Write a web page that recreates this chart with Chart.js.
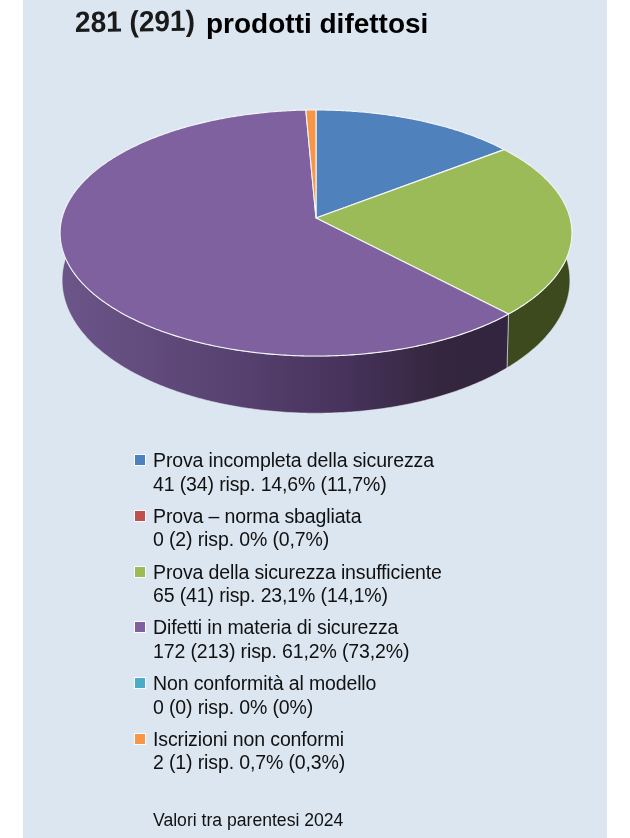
<!DOCTYPE html>
<html lang="it">
<head>
<meta charset="utf-8">
<title>281 (291) prodotti difettosi</title>
<script src="https://cdn.jsdelivr.net/npm/chart.js@4"></script>
<style>
  html, body { margin: 0; padding: 0; background: #fff; }
  #page { position: relative; width: 630px; height: 838px; overflow: hidden; font-family: "Liberation Sans", Arial, sans-serif; color: #111; }
  #panel { position: absolute; left: 23px; top: 0; width: 584px; height: 838px; background: #dce6f1; }
  #chartBox { position: absolute; left: 0; top: 0; width: 630px; height: 838px; }
  .title { position: absolute; font-weight: bold; white-space: nowrap; }
  #titleCount { left: 75px; top: 6px; font-size: 28px; color: #1a1a1a; transform: rotate(-0.6deg) scaleY(1.05); }
  #titleText { left: 206px; top: 8px; font-size: 28px; color: #000; }
  #legend { position: absolute; left: 135px; top: 449px; }
  .item { position: relative; height: 55.8px; padding-left: 18px; font-size: 19.5px; line-height: 23.5px; letter-spacing: -0.13px; white-space: nowrap; }
  .swatch { position: absolute; left: 0; top: 6px; width: 10px; height: 10px; outline: 1.5px solid rgba(255,255,255,0.85); }
  #note { position: absolute; left: 153px; top: 810px; font-size: 17.6px; white-space: nowrap; }
</style>
</head>
<body>
<div id="page">
  <div id="panel"></div>
  <div id="chartBox"><canvas id="myChart" width="630" height="838"></canvas></div>
  <div class="title" id="titleCount">281 (291)</div>
  <div class="title" id="titleText">prodotti difettosi</div>
  <div id="legend"></div>
  <div id="note">Valori tra parentesi 2024</div>
</div>
<script>
const categories = [
  "Prova incompleta della sicurezza",
  "Prova – norma sbagliata",
  "Prova della sicurezza insufficiente",
  "Difetti in materia di sicurezza",
  "Non conformità al modello",
  "Iscrizioni non conformi",
];
const values = [41, 0, 65, 172, 0, 2];
const details = [
  "41 (34) risp. 14,6% (11,7%)",
  "0 (2) risp. 0% (0,7%)",
  "65 (41) risp. 23,1% (14,1%)",
  "172 (213) risp. 61,2% (73,2%)",
  "0 (0) risp. 0% (0%)",
  "2 (1) risp. 0,7% (0,3%)",
];
const colors = ["#4f81bd", "#c0504d", "#9bbb59", "#7f61a0", "#4bacc6", "#f79646"];

// legenda html, due righe per voce
const legendEl = document.getElementById("legend");
categories.forEach((name, i) => {
  const item = document.createElement("div");
  item.className = "item";
  const swatch = document.createElement("span");
  swatch.className = "swatch";
  swatch.style.background = colors[i];
  item.appendChild(swatch);
  item.appendChild(document.createTextNode(name));
  item.appendChild(document.createElement("br"));
  item.appendChild(document.createTextNode(details[i]));
  legendEl.appendChild(item);
});

// prospettiva del disco: faccia superiore e fondo
const tilt = 0.122;
const topFace = { cx: 316, cy: 218, rx: 254, ry: 121.2 };
const bottomFace = { cx: 316, cy: 264, rx: 252, ry: 131 };

function project(face, angle) {
  const u = Math.cos(angle);
  const v = Math.sin(angle);
  const w = 1 - tilt * v;
  return [face.cx + (face.rx * u) / w, face.cy + (face.ry * v) / w];
}

function arcPoints(face, start, end) {
  const steps = Math.max(2, Math.ceil(Math.abs(end - start) / 0.01));
  const pts = [];
  for (let i = 0; i <= steps; i++) {
    pts.push(project(face, start + ((end - start) * i) / steps));
  }
  return pts;
}

function wallFill(ctx, index) {
  if (index === 2) return "#3d4a1e";
  if (index === 3) {
    const g = ctx.createLinearGradient(60, 0, 505, 0);
    g.addColorStop(0, "#6c5589");
    g.addColorStop(0.4, "#574170");
    g.addColorStop(0.65, "#46325a");
    g.addColorStop(0.85, "#35263f");
    g.addColorStop(1, "#33243f");
    return g;
  }
  return "#2f4a6c";
}

const pie3d = {
  id: "pie3d",
  // disegno i settori a mano, con gli angoli calcolati da Chart.js
  beforeDatasetDraw(chart) {
    const ctx = chart.ctx;
    const arcs = chart.getDatasetMeta(0).data;
    ctx.save();
    ctx.lineJoin = "round";

    // pareti laterali
    arcs.forEach((arc, i) => {
      if (arc.endAngle - arc.startAngle <= 0) return;
      const topPts = arcPoints(topFace, arc.startAngle, arc.endAngle);
      const botPts = arcPoints(bottomFace, arc.endAngle, arc.startAngle);
      ctx.beginPath();
      topPts.concat(botPts).forEach((p, n) => (n ? ctx.lineTo(p[0], p[1]) : ctx.moveTo(p[0], p[1])));
      ctx.closePath();
      ctx.fillStyle = wallFill(ctx, i);
      ctx.fill();
      ctx.strokeStyle = "rgba(230,235,240,0.55)";
      ctx.lineWidth = 1;
      ctx.stroke();
    });

    // faccia superiore
    arcs.forEach((arc, i) => {
      if (arc.endAngle - arc.startAngle <= 0) return;
      const pts = arcPoints(topFace, arc.startAngle, arc.endAngle);
      ctx.beginPath();
      ctx.moveTo(topFace.cx, topFace.cy);
      pts.forEach((p) => ctx.lineTo(p[0], p[1]));
      ctx.closePath();
      ctx.fillStyle = colors[i];
      ctx.fill();
      ctx.strokeStyle = "#f4f6f8";
      ctx.lineWidth = 1.1;
      ctx.stroke();
    });

    ctx.restore();
    return false;
  },
};

new Chart(document.getElementById("myChart").getContext("2d"), {
  type: "pie",
  data: {
    labels: categories,
    datasets: [{ data: values, backgroundColor: colors, borderColor: "#fff", borderWidth: 1 }],
  },
  options: {
    responsive: false,
    animation: false,
    plugins: { legend: { display: false }, tooltip: { enabled: false } },
  },
  plugins: [pie3d],
});
</script>
</body>
</html>
